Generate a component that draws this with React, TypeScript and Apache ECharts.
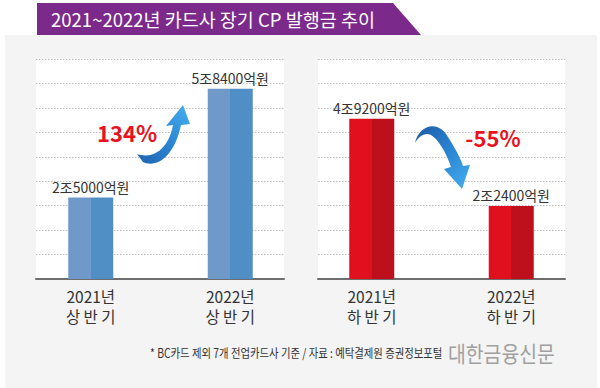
import React, { useEffect, useRef } from "react";
import * as echarts from "echarts";

const titleText = "2021~2022년 카드사 장기 CP 발행금 추이";
const firstHalfCategories = ["2021년\n상 반 기", "2022년\n상 반 기"];
const secondHalfCategories = ["2021년\n하 반 기", "2022년\n하 반 기"];
// 단위: 조원
const firstHalfValues = [2.5, 5.84];
const secondHalfValues = [4.92, 2.24];
const changeLabels = ["134%", "-55%"];
const footnoteText = "* BC카드 제외 7개 전업카드사 기준 / 자료 : 예탁결제원 증권정보포털";
const brandText = "대한금융신문";

const FONT = "'Noto Sans CJK KR', 'Noto Sans', sans-serif";

const ARROW_UP_D =
  "M 137 154 L 143 162 C 156 168 174 158 181 125 L 190 124 L 183 105 L 166 126 L 173 125 C 169 147 155 160 137 154 Z";
const ARROW_DOWN_D =
  "M 415 143 C 418 127 437 118 448 137 C 455 148 460 157 463 166 L 470 165 L 462 189 L 444 169 L 451 167 C 446 152 438 139 431 135 C 425 132 419 136 415 143 Z";

echarts.graphic.registerShape("arrowUpCurve", echarts.graphic.extendPath(ARROW_UP_D, {}));
echarts.graphic.registerShape("arrowDownCurve", echarts.graphic.extendPath(ARROW_DOWN_D, {}));

function fmtAmount(v: number): string {
  const jo = Math.floor(v);
  const eok = Math.round((v - jo) * 10000);
  return `${jo}조${eok}억원`;
}

function twoTone(a: string, b: string) {
  return new echarts.graphic.LinearGradient(0, 0, 1, 0, [
    { offset: 0, color: a },
    { offset: 0.5, color: a },
    { offset: 0.5, color: b },
    { offset: 1, color: b },
  ]);
}

export default function App() {
  const ref = useRef<HTMLDivElement>(null);
  useEffect(() => {
    if (!ref.current) return;
    const chart = echarts.init(ref.current, undefined, { renderer: "svg" });
    const Y_MAX = 6.75;
    const Y_INT = 0.75;
    const gridTop = 59;
    const gridH = 220;

    const lineYAxis = (gi: number) => ({
      gridIndex: gi,
      type: "value",
      min: 0,
      max: Y_MAX,
      interval: Y_INT,
      axisLine: { show: false },
      axisTick: { show: false },
      axisLabel: { show: false },
      splitLine: { show: true, lineStyle: { color: "#bdbdbd", type: [1.5, 1.5], width: 1 } },
    });
    const hiddenYAxis = (gi: number) => ({
      gridIndex: gi,
      type: "value",
      min: 0,
      max: Y_MAX,
      interval: Y_INT,
      axisLine: { show: false },
      axisTick: { show: false },
      axisLabel: { show: false },
      splitLine: { show: false },
    });
    const baseXAxis = (gi: number) => ({
      gridIndex: gi,
      type: "category",
      data: ["a", "b"],
      axisLine: { show: true, lineStyle: { color: "#6e6e6e", width: 2 } },
      axisTick: { show: false },
      axisLabel: { show: false },
      splitLine: { show: false },
    });
    const catXAxis = (gi: number, data: string[]) => ({
      gridIndex: gi,
      type: "category",
      data,
      axisLine: { show: false },
      axisTick: { show: false },
      axisLabel: {
        show: true,
        fontSize: 15.5,
        lineHeight: 20,
        color: "#333",
        fontFamily: FONT,
        margin: 7,
      },
      splitLine: { show: false },
    });
    const barSeries = (gi: number, values: number[], a: string, b: string) => ({
      type: "bar",
      xAxisIndex: gi,
      yAxisIndex: gi,
      data: values,
      barWidth: 45,
      itemStyle: { color: twoTone(a, b) },
      label: {
        show: true,
        position: "top",
        distance: 4,
        fontSize: 14,
        color: "#333",
        fontFamily: FONT,
        formatter: (p: any) => fmtAmount(p.value),
      },
      z: 3,
    });

    const option: any = {
      animation: false,
      backgroundColor: "#ffffff",
      grid: [
        { left: 36, top: gridTop, width: 248, height: gridH, show: true, backgroundColor: "#ffffff", borderWidth: 0 },
        { left: 21, top: gridTop, width: 279, height: gridH },
        { left: 318, top: gridTop, width: 247, height: gridH, show: true, backgroundColor: "#ffffff", borderWidth: 0 },
        { left: 302, top: gridTop, width: 279, height: gridH },
      ],
      xAxis: [
        baseXAxis(0),
        catXAxis(1, firstHalfCategories),
        baseXAxis(2),
        catXAxis(3, secondHalfCategories),
      ],
      yAxis: [lineYAxis(0), hiddenYAxis(1), lineYAxis(2), hiddenYAxis(3)],
      series: [
        barSeries(1, firstHalfValues, "#6f99c8", "#4f8fc6"),
        barSeries(3, secondHalfValues, "#e0101e", "#bd101c"),
      ],
      graphic: [
        {
          type: "rect",
          z: -100,
          silent: true,
          shape: { x: 5, y: 35, width: 592, height: 353 },
          style: { fill: "#f4f4f4" },
        },
        {
          type: "polygon",
          z: 10,
          silent: true,
          shape: { points: [[37, 3], [393, 3], [421, 35], [37, 35]] },
          style: { fill: "#7b2a8c" },
        },
        {
          type: "text",
          z: 11,
          x: 213,
          y: 19,
          style: {
            text: titleText,
            fill: "#ffffff",
            fontSize: 18.5,
            fontFamily: FONT,
            align: "center",
            verticalAlign: "middle",
          },
        },
        {
          type: "arrowUpCurve",
          z: 10,
          x: 0,
          y: 0,
          style: {
            fill: new echarts.graphic.LinearGradient(0, 1, 1, 0, [
              { offset: 0, color: "#1f63b0" },
              { offset: 0.5, color: "#2b86d3" },
              { offset: 1, color: "#47b0ee" },
            ]),
          },
        },
        {
          type: "arrowDownCurve",
          z: 10,
          x: 0,
          y: 0,
          style: {
            fill: new echarts.graphic.LinearGradient(0, 0, 1, 1, [
              { offset: 0, color: "#1d5aa6" },
              { offset: 0.5, color: "#2a84d2" },
              { offset: 1, color: "#45afee" },
            ]),
          },
        },
        {
          type: "text",
          z: 10,
          x: 127,
          y: 132,
          style: {
            text: changeLabels[0],
            fill: "#e8131f",
            fontSize: 22,
            fontWeight: "bold",
            fontFamily: FONT,
            align: "center",
            verticalAlign: "middle",
          },
        },
        {
          type: "text",
          z: 10,
          x: 493,
          y: 137,
          style: {
            text: changeLabels[1],
            fill: "#e8131f",
            fontSize: 22,
            fontWeight: "bold",
            fontFamily: FONT,
            align: "center",
            verticalAlign: "middle",
          },
        },
        {
          type: "text",
          z: 10,
          x: 150,
          y: 353,
          scaleX: 0.83,
          style: {
            text: footnoteText,
            fill: "#333",
            fontSize: 12.5,
            fontFamily: FONT,
            align: "left",
            verticalAlign: "middle",
          },
        },
        {
          type: "text",
          z: 10,
          x: 448,
          y: 352,
          scaleX: 0.88,
          style: {
            text: brandText,
            fill: "#a0a0a0",
            fontSize: 22,
            fontFamily: FONT,
            align: "left",
            verticalAlign: "middle",
          },
        },
      ],
    };
    chart.setOption(option);
    return () => chart.dispose();
  }, []);
  return (
    <div
      ref={ref}
      style={{ position: "fixed", left: 0, top: 0, width: 600, height: 388 }}
    />
  );
}
